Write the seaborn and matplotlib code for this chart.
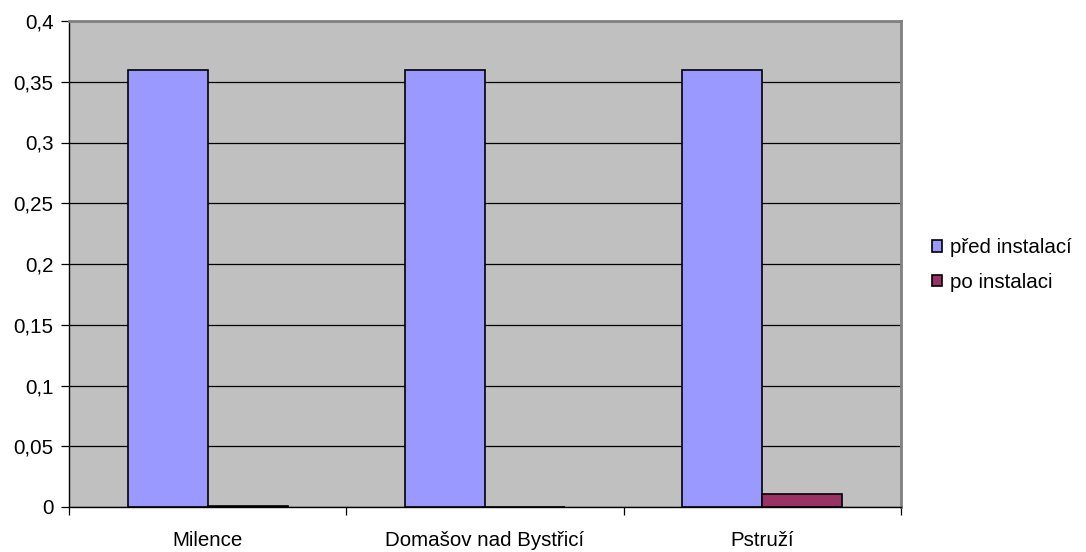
import matplotlib
matplotlib.use("Agg")
import matplotlib.pyplot as plt
import seaborn as sns
import pandas as pd
from matplotlib.ticker import FixedLocator, FuncFormatter
from matplotlib.patches import Patch

categories = ["Milence", "Domašov nad Bystřicí", "Pstruží"]
series_names = ["před instalací", "po instalaci"]
pred_values = [0.36, 0.36, 0.36]
po_values = [0.001, 0.0, 0.011]
colors = ["#9999FF", "#993366"]

df = pd.DataFrame({
    "lokalita": categories * 2,
    "serie": [series_names[0]] * 3 + [series_names[1]] * 3,
    "hodnota": pred_values + po_values,
})

sns.set_theme(style="white")
plt.rcParams["font.family"] = ["Liberation Sans", "DejaVu Sans"]
plt.rcParams["text.color"] = "black"
plt.rcParams["xtick.color"] = "black"
plt.rcParams["ytick.color"] = "black"
plt.rcParams["xtick.labelcolor"] = "black"
plt.rcParams["ytick.labelcolor"] = "black"
FS = 14.8

fig = plt.figure(figsize=(10.86, 5.52), dpi=100)
ax = fig.add_axes([69/1086, 1-507/552, (901-69)/1086, (507-21)/552])
ax.set_facecolor("#C0C0C0")

sns.barplot(data=df, x="lokalita", y="hodnota", hue="serie", order=categories,
            hue_order=series_names, palette=colors, width=0.576, gap=0,
            edgecolor="black", linewidth=1.2, ax=ax, legend=False, saturation=1)

ax.set_ylim(0, 0.4)
ax.set_xlim(-0.5, 2.5)
yt = [0, 0.05, 0.1, 0.15, 0.2, 0.25, 0.3, 0.35, 0.4]
ax.set_yticks(yt)
ax.yaxis.set_major_formatter(FuncFormatter(lambda v, p: ("%g" % v).replace(".", ",")))
ax.yaxis.grid(True, color="black", linewidth=0.9)
ax.set_axisbelow(True)
ax.tick_params(axis="y", length=6, width=0.9, color="black", labelcolor="black",
               labelsize=FS, pad=5, left=True)
ax.tick_params(axis="x", which="major", length=0, labelsize=FS, labelcolor="black", pad=17)
ax.xaxis.set_minor_locator(FixedLocator([-0.5, 0.5, 1.5, 2.5]))
ax.tick_params(axis="x", which="minor", length=6, width=0.9, color="black", bottom=True)
ax.set_xlabel("")
ax.set_ylabel("")
for s in ["left", "bottom"]:
    ax.spines[s].set_color("black")
    ax.spines[s].set_linewidth(1)
for s in ["top", "right"]:
    ax.spines[s].set_color("#808080")
    ax.spines[s].set_linewidth(2)

handles = [Patch(facecolor=c, edgecolor="black", linewidth=1.2) for c in colors]
fig.legend(handles, series_names, loc="center left", bbox_to_anchor=(932/1086, 1-265/552),
           frameon=False, fontsize=FS, handlelength=0.5, handleheight=0.5,
           handletextpad=0.4, labelspacing=0.75, borderpad=0, borderaxespad=0,
           labelcolor="black")

fig.savefig("out.png", dpi=100)
